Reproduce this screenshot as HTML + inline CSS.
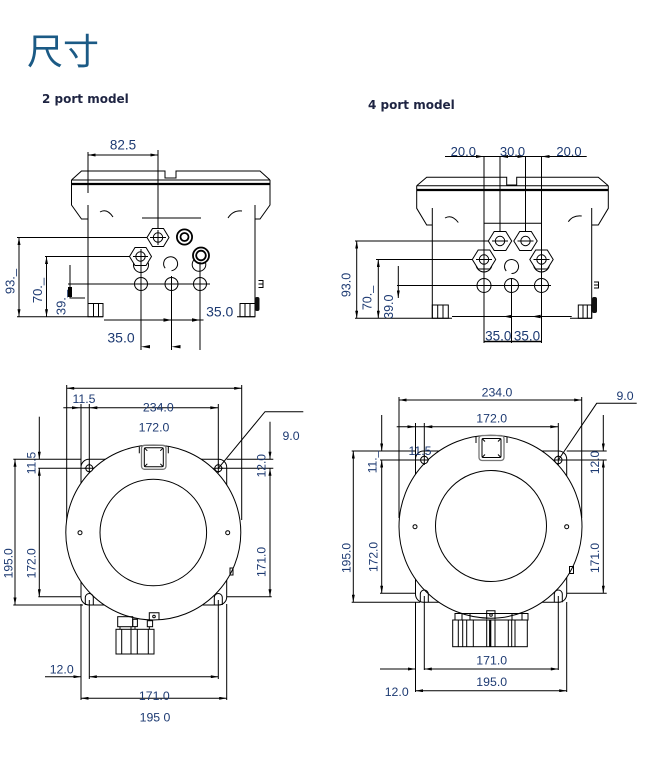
<!DOCTYPE html>
<html><head><meta charset="utf-8"><style>
html,body{margin:0;padding:0;background:#fff;}
svg{display:block}
.t{font-family:"Liberation Sans",Arial,sans-serif;fill:#1d3a72;}
.h{font-family:"DejaVu Sans",sans-serif;font-weight:bold;fill:#1e2442;font-size:12px;}
</style></head><body>
<svg width="650" height="766" viewBox="0 0 650 766" xmlns="http://www.w3.org/2000/svg">
<defs>
<marker id="a" viewBox="0 0 10 4" refX="10" refY="2" markerWidth="8" markerHeight="3" markerUnits="userSpaceOnUse" orient="auto-start-reverse"><path d="M0,0L10,2L0,4z" fill="#000"/></marker>
</defs>
<rect width="650" height="766" fill="#fff"/>
<text x="27" y="64" font-family="'Noto Sans CJK SC','WenQuanYi Zen Hei',sans-serif" font-size="36" fill="#1b5a85">尺寸</text>
<text class="h" x="42" y="103">2 port model</text>
<text class="h" x="368" y="109">4 port model</text>

<!-- ============ TOP LEFT ============ -->
<g fill="none" stroke="#000" stroke-width="1">
<path d="M71.5,180 L81.5,171 L165,171 L165,178 L176,178 L176,171 L260,171 L270,180"/>
<line x1="71.5" y1="180" x2="270" y2="180"/>
<line x1="71.5" y1="184" x2="270" y2="184" stroke-width="2.2"/>
<path d="M71.5,180 V205 L81.5,219 H88"/>
<path d="M270,180 V205 L260,219 H255"/>
<line x1="88" y1="205" x2="88" y2="317"/>
<line x1="88" y1="152" x2="88" y2="193"/>
<line x1="255" y1="205" x2="255" y2="317"/>
<path d="M100,212 Q107,208 113,217"/>
<path d="M228,218 Q233,210 242,211"/>
<line x1="142" y1="218" x2="201" y2="218"/>
<line x1="88" y1="155" x2="158" y2="155" marker-start="url(#a)" marker-end="url(#a)"/>
<line x1="158" y1="150" x2="158" y2="246"/>
<!-- under-circles -->
<circle cx="141" cy="265" r="7.5"/>
<circle cx="199" cy="264.5" r="6.8"/>
<!-- hex 1 -->
<polygon points="147,237.5 152.5,228.5 163.5,228.5 169,237.5 163.5,246.5 152.5,246.5" fill="#fff"/>
<circle cx="158" cy="237.5" r="4.7"/>
<line x1="150" y1="237.5" x2="166" y2="237.5"/>
<line x1="158" y1="230" x2="158" y2="245"/>
<!-- gland 1 -->
<circle cx="184.5" cy="237" r="7.6" stroke-width="1.8" fill="#fff"/>
<circle cx="184.5" cy="237" r="4" stroke-width="1.8"/>
<!-- hex 2 -->
<polygon points="129.5,256.5 135,247.5 146,247.5 151.5,256.5 146,265.5 135,265.5" fill="#fff"/>
<circle cx="140.5" cy="256.5" r="4.7"/>
<line x1="133" y1="256.5" x2="148" y2="256.5"/>
<!-- gland 2 -->
<circle cx="201" cy="255.5" r="8" stroke-width="1.8" fill="#fff"/>
<circle cx="201" cy="255.5" r="4.8" stroke-width="1.8"/>
<path d="M165.2,268.2 A7,7 0 1 1 171.5,270.7"/>
<circle cx="141" cy="284" r="6.5"/>
<circle cx="171.5" cy="284" r="6.5"/>
<circle cx="200" cy="284" r="6.5"/>
<line x1="68" y1="284" x2="210" y2="284"/>
<line x1="141" y1="249" x2="141" y2="350"/>
<line x1="171.5" y1="276" x2="171.5" y2="350"/>
<line x1="200" y1="262" x2="200" y2="350"/>
<line x1="17" y1="237.5" x2="147" y2="237.5"/>
<line x1="45" y1="256.5" x2="129.5" y2="256.5"/>
<line x1="19" y1="237.5" x2="19" y2="316.7" marker-start="url(#a)" marker-end="url(#a)"/>
<line x1="46.5" y1="256.5" x2="46.5" y2="316.7" marker-start="url(#a)" marker-end="url(#a)"/>
<line x1="70" y1="265" x2="70" y2="298.5"/>
<line x1="70" y1="298" x2="85" y2="298"/>
<line x1="17" y1="316.7" x2="103" y2="316.7"/>
<line x1="237" y1="316.7" x2="255" y2="316.7"/>
<rect x="88" y="303.5" width="15" height="13.2"/>
<line x1="93.5" y1="303.5" x2="93.5" y2="316.7"/>
<line x1="98.5" y1="303.5" x2="98.5" y2="316.7"/>
<rect x="240" y="303.5" width="15" height="13.2"/>
<line x1="245" y1="303.5" x2="245" y2="316.7"/>
<line x1="250" y1="303.5" x2="250" y2="316.7"/>
<line x1="104" y1="320" x2="203.5" y2="320"/>
<path d="M263,280 V288 M258.5,280.5 H263 M258.5,284 H263 M258.5,287.5 H263"/>
</g>
<rect x="68" y="287" width="4" height="10" fill="#000"/>
<rect x="255" y="297" width="4.5" height="14" rx="2" fill="#111"/>
<polygon points="163.5,318.3 171.5,320 163.5,321.7" fill="#000"/>
<polygon points="192,318.3 200,320 192,321.7" fill="#000"/>
<polygon points="141,346.7 150,345 150,348.4" fill="#000"/>
<polygon points="171.5,346.7 180.5,345 180.5,348.4" fill="#000"/>
<text class="t" x="123" y="149.5" font-size="13.5" text-anchor="middle">82.5</text>
<text class="t" x="219.7" y="316.3" font-size="14" text-anchor="middle">35.0</text>
<text class="t" x="121" y="342.3" font-size="14" text-anchor="middle">35.0</text>
<text class="t" font-size="13" text-anchor="middle" dominant-baseline="central" transform="translate(10,281.5) rotate(-90)">93._</text>
<text class="t" font-size="13" text-anchor="middle" dominant-baseline="central" transform="translate(37.5,290.5) rotate(-90)">70._</text>
<text class="t" font-size="13" text-anchor="middle" dominant-baseline="central" transform="translate(61,302.5) rotate(-90)">39._</text>

<!-- ============ TOP RIGHT ============ -->
<g fill="none" stroke="#000" stroke-width="1">
<path d="M416.7,185.7 L426.7,177.3 L506.7,177.3 L506.7,185 L516.7,185 L516.7,177.3 L598.3,177.3 L608.3,185.7"/>
<line x1="416.7" y1="185.7" x2="608.3" y2="185.7"/>
<line x1="416.7" y1="190" x2="608.3" y2="190" stroke-width="2.2"/>
<path d="M416.7,185.7 V208.3 L426.7,225 H432.3"/>
<path d="M608.3,185.7 V208.3 L598.3,225 H591.7"/>
<line x1="432.3" y1="208" x2="432.3" y2="318.3"/>
<line x1="591.7" y1="208" x2="591.7" y2="318.3"/>
<path d="M445,218 Q452,214 458.3,222.5"/>
<path d="M568.3,221.7 Q573,215 581.7,216"/>
<line x1="484" y1="223.3" x2="541.7" y2="223.3"/>
<line x1="445" y1="156.5" x2="586.7" y2="156.5"/>
<line x1="484" y1="156.5" x2="484" y2="343"/>
<line x1="500" y1="156.5" x2="500" y2="245"/>
<line x1="525.5" y1="156.5" x2="525.5" y2="245"/>
<line x1="541.5" y1="156.5" x2="541.5" y2="343"/>
<circle cx="484" cy="264" r="8"/>
<circle cx="541.5" cy="264" r="8"/>
<polygon points="488.3,241 494.2,231.5 505.8,231.5 511.7,241 505.8,250.5 494.2,250.5" fill="#fff"/>
<circle cx="500" cy="241" r="4.7"/>
<polygon points="513.8,241 519.7,231.5 531.3,231.5 537.2,241 531.3,250.5 519.7,250.5" fill="#fff"/>
<circle cx="525.5" cy="241" r="4.7"/>
<polygon points="472.3,259.5 478.2,250 489.8,250 495.7,259.5 489.8,269 478.2,269" fill="#fff"/>
<circle cx="484" cy="259.5" r="4.7"/>
<polygon points="529.8,259.5 535.7,250 547.3,250 553.2,259.5 547.3,269 535.7,269" fill="#fff"/>
<circle cx="541.5" cy="259.5" r="4.7"/>
<line x1="492" y1="241" x2="508" y2="241"/>
<line x1="517.5" y1="241" x2="533.5" y2="241"/>
<line x1="476" y1="259.5" x2="492" y2="259.5"/>
<line x1="533.5" y1="259.5" x2="549.5" y2="259.5"/>
<line x1="484" y1="250" x2="484" y2="269"/>
<line x1="541.5" y1="250" x2="541.5" y2="269"/>
<path d="M506.2,271 A7,7 0 1 1 511.5,273.5"/>
<circle cx="484" cy="285.5" r="7"/>
<circle cx="511.5" cy="285.5" r="7"/>
<circle cx="541.5" cy="285.5" r="7"/>
<line x1="397" y1="285.5" x2="551" y2="285.5"/>
<line x1="511.5" y1="278" x2="511.5" y2="343"/>
<line x1="355" y1="241" x2="488.3" y2="241"/>
<line x1="376" y1="259.5" x2="472.3" y2="259.5"/>
<line x1="356.7" y1="241" x2="356.7" y2="318.3" marker-start="url(#a)" marker-end="url(#a)"/>
<line x1="378.3" y1="259.5" x2="378.3" y2="318.3" marker-start="url(#a)" marker-end="url(#a)"/>
<line x1="398.3" y1="266" x2="398.3" y2="298" marker-end="url(#a)"/>
<line x1="355" y1="318.3" x2="452" y2="318.3"/>
<line x1="452" y1="316.5" x2="571.7" y2="316.5"/>
<line x1="570" y1="318.3" x2="591.7" y2="318.3"/>
<rect x="432.3" y="305" width="16" height="13.3"/>
<line x1="437.7" y1="305" x2="437.7" y2="318.3"/>
<line x1="443" y1="305" x2="443" y2="318.3"/>
<rect x="578.3" y="305" width="13.4" height="13.3"/>
<line x1="583" y1="305" x2="583" y2="318.3"/>
<line x1="587.3" y1="305" x2="587.3" y2="318.3"/>
<path d="M598.5,281.5 V288.5 M594,282 H598.5 M594,285 H598.5 M594,288 H598.5"/>
<line x1="484" y1="341.5" x2="541.7" y2="341.5" stroke-width="1.6"/>
</g>
<rect x="592" y="297" width="5" height="16" rx="2" fill="#111"/>
<polygon points="476,155 484,156.5 476,158" fill="#000"/>
<polygon points="500,156.5 508,155 508,158" fill="#000"/>
<polygon points="517.5,155 525.5,156.5 517.5,158" fill="#000"/>
<polygon points="541.5,156.5 549.5,155 549.5,158" fill="#000"/>
<polygon points="503,316.5 512,314.8 512,318.2" fill="#000"/>
<polygon points="531.7,316.5 540.7,314.8 540.7,318.2" fill="#000"/>
<text class="t" x="463.3" y="156" font-size="13" text-anchor="middle">20.0</text>
<text class="t" x="512.5" y="156" font-size="13" text-anchor="middle">30.0</text>
<text class="t" x="569" y="156" font-size="13" text-anchor="middle">20.0</text>
<text class="t" x="498.3" y="340.5" font-size="13.5" text-anchor="middle">35.0</text>
<text class="t" x="527" y="340.5" font-size="13.5" text-anchor="middle">35.0</text>
<text class="t" font-size="12.5" text-anchor="middle" dominant-baseline="central" transform="translate(346.7,285) rotate(-90)">93.0</text>
<text class="t" font-size="12.5" text-anchor="middle" dominant-baseline="central" transform="translate(367.5,298) rotate(-90)">70._</text>
<text class="t" font-size="12.5" text-anchor="middle" dominant-baseline="central" transform="translate(389,306.7) rotate(-90)">39.0</text>

<!-- ============ BOTTOM LEFT ============ -->
<g fill="none" stroke="#000" stroke-width="1">
<rect x="81" y="459.3" width="145.7" height="145.7" rx="8"/>
<line x1="66.7" y1="385" x2="66.7" y2="526"/>
<line x1="241.7" y1="385" x2="241.7" y2="520"/>
<line x1="66.7" y1="388.3" x2="241.7" y2="388.3" marker-start="url(#a)" marker-end="url(#a)"/>
<line x1="63.3" y1="407.7" x2="218.3" y2="407.7"/>
<line x1="81" y1="404" x2="81" y2="466"/>
<line x1="89.3" y1="404" x2="89.3" y2="466"/>
<line x1="218.3" y1="404" x2="218.3" y2="466"/>
<line x1="13.3" y1="459.3" x2="81" y2="459.3"/>
<line x1="226.7" y1="459.3" x2="273.3" y2="459.3"/>
<line x1="38.3" y1="468.3" x2="86" y2="468.3"/>
<line x1="221.6" y1="468.3" x2="273.3" y2="468.3"/>
<line x1="38.3" y1="596.7" x2="81" y2="596.7"/>
<line x1="226.7" y1="596.7" x2="271.7" y2="596.7"/>
<line x1="13.3" y1="605" x2="83" y2="605"/>
<line x1="15" y1="459.3" x2="15" y2="605" marker-start="url(#a)" marker-end="url(#a)"/>
<line x1="39.3" y1="416.7" x2="39.3" y2="459.3" marker-end="url(#a)"/>
<line x1="39.3" y1="468.3" x2="39.3" y2="596.7" marker-start="url(#a)" marker-end="url(#a)"/>
<line x1="270" y1="421.7" x2="270" y2="459.3" marker-end="url(#a)"/>
<line x1="270" y1="468.3" x2="270" y2="596.7" marker-start="url(#a)" marker-end="url(#a)"/>
<line x1="81" y1="604" x2="81" y2="700"/>
<line x1="89.3" y1="600" x2="89.3" y2="679"/>
<line x1="218.3" y1="600" x2="218.3" y2="679"/>
<line x1="226.7" y1="604" x2="226.7" y2="700"/>
<line x1="45" y1="676.7" x2="81" y2="676.7" marker-end="url(#a)"/>
<line x1="89.3" y1="676.7" x2="218.3" y2="676.7" marker-start="url(#a)" marker-end="url(#a)"/>
<line x1="81" y1="698.3" x2="226.7" y2="698.3" marker-start="url(#a)" marker-end="url(#a)"/>
<circle cx="153.3" cy="532.5" r="87.5" fill="#fff"/>
<circle cx="153.3" cy="532.5" r="53.3"/>
<circle cx="80" cy="532.7" r="2"/>
<circle cx="227.7" cy="532.7" r="2"/>
<rect x="141.5" y="445.3" width="24.5" height="24" rx="3" stroke="#777" stroke-width="1.3"/>
<rect x="144.3" y="447.8" width="19" height="19" rx="1.5"/>
<path d="M144.3,447.8 l3,3 M163.3,447.8 l-3,3 M144.3,466.8 l3,-3 M163.3,466.8 l-3,-3"/>
<line x1="139.3" y1="446.7" x2="139.3" y2="453.3"/>
<line x1="168.3" y1="446.7" x2="168.3" y2="453.3"/>
<circle cx="89.3" cy="468.3" r="3.5" fill="#fff"/>
<path d="M84.5,468.3 H94 M89.3,463.5 V473"/>
<circle cx="218.3" cy="468.3" r="3.5" fill="#fff"/>
<path d="M213.5,468.3 H223 M218.3,463.5 V473"/>
<path d="M85.3,605 V597.5 A4,4 0 0 1 93.3,597.5 V605"/>
<path d="M214.3,605 V597.5 A4,4 0 0 1 222.3,597.5 V605"/>
<path d="M218.3,468.3 L265,411.7 H303.3"/>
<rect x="230" y="568" width="3" height="7"/>
<rect x="117.7" y="616.7" width="15" height="10"/>
<rect x="132.7" y="619.3" width="4.7" height="7.3"/>
<rect x="147.3" y="620.7" width="5.3" height="6"/>
<path d="M149.3,620.7 V612.7 H159 V620"/>
<circle cx="154" cy="616.5" r="1.3"/>
<path d="M120,626.7 V629.3 M131,626.7 V629.3 M135,626.7 V629.3 M149.3,626.7 V629.3"/>
<rect x="116" y="629.3" width="38" height="24.7"/>
<path d="M121.7,629.3 V654 M131,629.3 V654 M137.3,629.3 V654 M148.3,629.3 V654"/>
</g>
<polygon points="72,406.2 80,407.7 72,409.2" fill="#000"/>
<polygon points="89.3,407.7 97.3,406.2 97.3,409.2" fill="#000"/>
<polygon points="210.3,406.2 218.3,407.7 210.3,409.2" fill="#000"/>
<text class="t" x="84" y="403" font-size="12.3" text-anchor="middle">11.5</text>
<text class="t" x="158.3" y="411.5" font-size="12.3" text-anchor="middle">234.0</text>
<text class="t" x="154" y="431.5" font-size="12.3" text-anchor="middle">172.0</text>
<text class="t" x="291" y="440" font-size="12.3" text-anchor="middle">9.0</text>
<text class="t" x="61.7" y="673.5" font-size="12.3" text-anchor="middle">12.0</text>
<text class="t" x="154.3" y="700" font-size="12.3" text-anchor="middle">171.0</text>
<text class="t" x="155" y="721.5" font-size="12.3" text-anchor="middle">195 0</text>
<text class="t" font-size="12" text-anchor="middle" dominant-baseline="central" transform="translate(8.5,563.3) rotate(-90)">195.0</text>
<text class="t" font-size="12" text-anchor="middle" dominant-baseline="central" transform="translate(31.7,563.3) rotate(-90)">172.0</text>
<text class="t" font-size="12" text-anchor="middle" dominant-baseline="central" transform="translate(31.7,463) rotate(-90)">11.5</text>
<text class="t" font-size="12" text-anchor="middle" dominant-baseline="central" transform="translate(261.7,465.7) rotate(-90)">12.0</text>
<text class="t" font-size="12" text-anchor="middle" dominant-baseline="central" transform="translate(261.7,562) rotate(-90)">171.0</text>

<!-- ============ BOTTOM RIGHT ============ -->
<g fill="none" stroke="#000" stroke-width="1">
<rect x="415.5" y="451" width="151.2" height="151.3" rx="8"/>
<line x1="399" y1="397" x2="399" y2="518"/>
<line x1="581.7" y1="397" x2="581.7" y2="518"/>
<line x1="399" y1="400" x2="581.7" y2="400" marker-start="url(#a)" marker-end="url(#a)"/>
<line x1="396.7" y1="426.7" x2="558.3" y2="426.7"/>
<line x1="415.5" y1="423" x2="415.5" y2="460"/>
<line x1="424.3" y1="423" x2="424.3" y2="456"/>
<line x1="558.3" y1="423" x2="558.3" y2="456"/>
<line x1="351.7" y1="451" x2="415.5" y2="451"/>
<line x1="566.7" y1="451" x2="606.7" y2="451"/>
<line x1="380" y1="460" x2="420.8" y2="460"/>
<line x1="561.8" y1="460" x2="606.7" y2="460"/>
<line x1="380" y1="593.3" x2="415.5" y2="593.3"/>
<line x1="566.7" y1="593.3" x2="606.7" y2="593.3"/>
<line x1="351.7" y1="602.3" x2="420" y2="602.3"/>
<line x1="353.3" y1="451" x2="353.3" y2="602.3" marker-start="url(#a)" marker-end="url(#a)"/>
<line x1="381.7" y1="415" x2="381.7" y2="451" marker-end="url(#a)"/>
<line x1="381.7" y1="460" x2="381.7" y2="593.3" marker-start="url(#a)" marker-end="url(#a)"/>
<line x1="603.3" y1="415" x2="603.3" y2="451" marker-end="url(#a)"/>
<line x1="603.3" y1="460" x2="603.3" y2="593.3" marker-start="url(#a)" marker-end="url(#a)"/>
<line x1="415.5" y1="602" x2="415.5" y2="692"/>
<line x1="424.3" y1="596" x2="424.3" y2="670"/>
<line x1="558.3" y1="596" x2="558.3" y2="670"/>
<line x1="566.7" y1="602" x2="566.7" y2="692"/>
<line x1="380" y1="669" x2="415.5" y2="669" marker-end="url(#a)"/>
<line x1="424.3" y1="669" x2="558.3" y2="669" marker-start="url(#a)" marker-end="url(#a)"/>
<line x1="415.5" y1="690.7" x2="566.7" y2="690.7" marker-start="url(#a)" marker-end="url(#a)"/>
<circle cx="490.5" cy="526.7" r="91.5" fill="#fff"/>
<circle cx="491" cy="526" r="55.5"/>
<circle cx="415" cy="526.7" r="2"/>
<circle cx="566.7" cy="526.7" r="2"/>
<rect x="479" y="435.5" width="25" height="25" rx="3" stroke="#777" stroke-width="1.3"/>
<rect x="482" y="438.5" width="19" height="19" rx="1.5"/>
<path d="M482,438.5 l3,3 M501,438.5 l-3,3 M482,457.5 l3,-3 M501,457.5 l-3,-3"/>
<line x1="476" y1="436.5" x2="476" y2="443"/>
<line x1="507" y1="436.5" x2="507" y2="443"/>
<circle cx="424.3" cy="460" r="3.7" fill="#fff"/>
<path d="M419.5,460 H429 M424.3,455 V465"/>
<circle cx="558.3" cy="460" r="3.7" fill="#fff"/>
<path d="M553.5,460 H563 M558.3,455 V465"/>
<path d="M420.3,602.3 V594 A4,4 0 0 1 428.3,594 V602.3"/>
<path d="M554.3,602.3 V594 A4,4 0 0 1 562.3,594 V602.3"/>
<path d="M558.3,460 L596.7,403.3 H636.7"/>
<rect x="569.5" y="566.5" width="4" height="7"/>
<rect x="455" y="613.5" width="73" height="6.5"/>
<path d="M462,613.5 V620 M470,613.5 V620 M512,613.5 V620 M522,613.5 V620"/>
<path d="M486.7,619.3 V610.7 H495 V619.3"/>
<circle cx="491" cy="615" r="1.3"/>
<rect x="452.7" y="620" width="74.6" height="26.7"/>
<path d="M458.3,620 V646.7 M462.7,620 V646.7 M466.7,620 V646.7 M473.3,620 V646.7 M486.7,620 V646.7 M495,620 V646.7 M508.3,620 V646.7 M511.7,620 V646.7 M515,620 V646.7"/>
<line x1="490.2" y1="620" x2="490.2" y2="646.7" stroke-width="2.2"/>
</g>
<polygon points="407.5,425.2 415.5,426.7 407.5,428.2" fill="#000"/>
<polygon points="424.3,426.7 432.3,425.2 432.3,428.2" fill="#000"/>
<polygon points="550.3,425.2 558.3,426.7 550.3,428.2" fill="#000"/>
<text class="t" x="497" y="396.5" font-size="12.3" text-anchor="middle">234.0</text>
<text class="t" x="491.7" y="422.5" font-size="12.3" text-anchor="middle">172.0</text>
<text class="t" x="420" y="455" font-size="12.3" text-anchor="middle">11.5</text>
<text class="t" x="625" y="400" font-size="12.3" text-anchor="middle">9.0</text>
<text class="t" x="491.7" y="664.5" font-size="12.3" text-anchor="middle">171.0</text>
<text class="t" x="491.7" y="686" font-size="12.3" text-anchor="middle">195.0</text>
<text class="t" x="396.7" y="696" font-size="12.3" text-anchor="middle">12.0</text>
<text class="t" font-size="12" text-anchor="middle" dominant-baseline="central" transform="translate(372.5,462) rotate(-90)">11._</text>
<text class="t" font-size="12" text-anchor="middle" dominant-baseline="central" transform="translate(595,462.5) rotate(-90)">12.0</text>
<text class="t" font-size="12" text-anchor="middle" dominant-baseline="central" transform="translate(595,558) rotate(-90)">171.0</text>
<text class="t" font-size="12" text-anchor="middle" dominant-baseline="central" transform="translate(346.7,558) rotate(-90)">195.0</text>
<text class="t" font-size="12" text-anchor="middle" dominant-baseline="central" transform="translate(373.3,557) rotate(-90)">172.0</text>
</svg>
</body></html>
